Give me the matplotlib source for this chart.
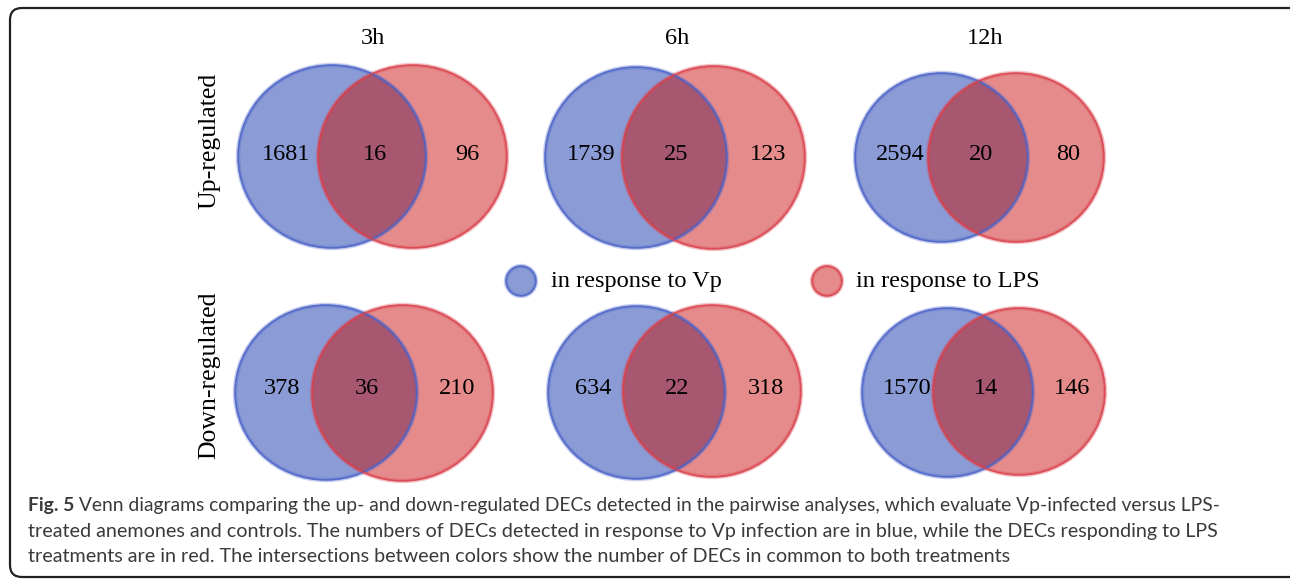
import matplotlib
matplotlib.use("Agg")
import matplotlib.pyplot as plt
from matplotlib.patches import Ellipse, FancyBboxPatch, Circle

# ---- data ----
timepoints = ["3h", "6h", "12h"]
row_labels = ["Up-regulated", "Down-regulated"]
up_vp_only = [1681, 1739, 2594]
up_shared = [16, 25, 20]
up_lps_only = [96, 123, 80]
down_vp_only = [378, 634, 1570]
down_shared = [36, 22, 14]
down_lps_only = [210, 318, 146]
legend_labels = ["in response to Vp", "in response to LPS"]
caption_bold = "Fig. 5"
caption_lines = [
    " Venn diagrams comparing the up- and down-regulated DECs detected in the pairwise analyses, which evaluate Vp-infected versus LPS-",
    "treated anemones and controls. The numbers of DECs detected in response to Vp infection are in blue, while the DECs responding to LPS",
    "treatments are in red. The intersections between colors show the number of DECs in common to both treatments",
]

# ---- layout (pixel geometry) ----
W, H = 1290, 580
# (blue cx, cy, hw, hh), (red cx, cy, hw, hh)
geom_up = [
    ((332, 156.5, 94, 91.5), (412.5, 156.5, 94.5, 91.5)),
    ((636, 157.5, 91, 90.5), (713.5, 157.5, 91.5, 91.5)),
    ((941.5, 157.5, 86.5, 84.5), (1016, 157.5, 88, 84.5)),
]
geom_down = [
    ((326, 392.5, 91, 87.5), (402.5, 393, 90.5, 88)),
    ((636.5, 392.5, 88.5, 86.5), (712, 391, 89, 86)),
    ((947.5, 392.5, 85.5, 84.5), (1019, 391.5, 86, 83.5)),
]
text_x_up = [(286, 375, 467), (591, 676, 768), (900, 981, 1068)]
text_x_down = [(282, 367, 457), (593, 677, 766), (907, 986, 1072)]
title_x = [373, 677, 985]

BLUE_FILL = "#8a9bd6"
RED_FILL = "#e68b8b"
MIX_FILL = "#a85770"
BLUE_EDGE = "#4a62c8"
RED_EDGE = "#d9404c"

fig = plt.figure(figsize=(W / 100, H / 100), dpi=100)
ax = fig.add_axes([0, 0, 1, 1])
ax.set_xlim(0, W)
ax.set_ylim(H, 0)
ax.axis("off")

# frame
frame = FancyBboxPatch((10, 8), W + 20, 569, boxstyle="round,pad=0,rounding_size=12",
                       fill=False, edgecolor="#222222", linewidth=1.6)
ax.add_patch(frame)

serif = ["Liberation Serif", "DejaVu Serif"]
num_fs = 17.5


def venn(bg, rg, labels, xs, cy_text):
    bx, by, bw, bh = bg
    rx, ry, rw, rh = rg
    b = Ellipse((bx, by), 2 * bw, 2 * bh, facecolor=BLUE_FILL, edgecolor="none", zorder=2)
    r = Ellipse((rx, ry), 2 * rw, 2 * rh, facecolor=RED_FILL, edgecolor="none", zorder=3)
    ax.add_patch(b)
    ax.add_patch(r)
    m = Ellipse((rx, ry), 2 * rw, 2 * rh, facecolor=MIX_FILL, edgecolor="none", zorder=4)
    ax.add_patch(m)
    m.set_clip_path(b)
    # edges (halo + core)
    for (cx, cy, hw, hh), col in ((bg, BLUE_EDGE), (rg, RED_EDGE)):
        ax.add_patch(Ellipse((cx, cy), 2 * hw, 2 * hh, fill=False, edgecolor=col,
                             linewidth=3.2, alpha=0.3, zorder=5))
        ax.add_patch(Ellipse((cx, cy), 2 * hw, 2 * hh, fill=False, edgecolor=col,
                             linewidth=1.2, alpha=0.85, zorder=6))
    for x, lab in zip(xs, labels):
        ax.text(x, cy_text, str(lab), ha="center", va="center", fontsize=num_fs,
                family=serif, color="black", zorder=10)


for i in range(3):
    venn(geom_up[i][0], geom_up[i][1], (up_vp_only[i], up_shared[i], up_lps_only[i]),
         text_x_up[i], 155)
    venn(geom_down[i][0], geom_down[i][1], (down_vp_only[i], down_shared[i], down_lps_only[i]),
         text_x_down[i], 389)
    ax.text(title_x[i], 38, timepoints[i], ha="center", va="center", fontsize=num_fs,
            family=serif, color="black")

ax.text(209, 141, row_labels[0], rotation=90, ha="center", va="center", fontsize=18.5,
        family=serif, color="black")
ax.text(209, 375, row_labels[1], rotation=90, ha="center", va="center", fontsize=18.5,
        family=serif, color="black")

# legend
for (cx, fc, ec), lab, tx in zip(((521, BLUE_FILL, BLUE_EDGE), (827, RED_FILL, RED_EDGE)),
                                 legend_labels, (551, 856)):
    ax.add_patch(Circle((cx, 281), 15, facecolor=fc, edgecolor="none", zorder=2))
    ax.add_patch(Circle((cx, 281), 15, fill=False, edgecolor=ec, linewidth=3.2, alpha=0.3, zorder=3))
    ax.add_patch(Circle((cx, 281), 15, fill=False, edgecolor=ec, linewidth=1.2, alpha=0.85, zorder=4))
    ax.text(tx, 282, lab, ha="left", va="center", fontsize=17.6, family=serif, color="black")

# caption
cap_font = ["Lato", "DejaVu Sans"]
cap_color = "#3a3a3a"
cap_fs = 14.2
cap_y = [505, 531, 557]
renderer = fig.canvas.get_renderer()
inv = ax.transData.inverted()


def right_px(t):
    bb = t.get_window_extent(renderer=renderer)
    return inv.transform((bb.x1, bb.y0))[0]


# first line: fit so that it ends where the reference's justified line ends
line1_end = 1222
fs1 = cap_fs
for _ in range(3):
    tb = ax.text(28, cap_y[0], caption_bold, ha="left", va="center", fontsize=fs1,
                 family=cap_font, fontweight="bold", color=cap_color)
    t1 = ax.text(right_px(tb), cap_y[0], caption_lines[0], ha="left", va="center",
                 fontsize=fs1, family=cap_font, color=cap_color)
    end = right_px(t1)
    tb.remove()
    t1.remove()
    fs1 = fs1 * (line1_end - 28) / (end - 28)
tb = ax.text(28, cap_y[0], caption_bold, ha="left", va="center", fontsize=fs1,
             family=cap_font, fontweight="bold", color=cap_color)
ax.text(right_px(tb), cap_y[0], caption_lines[0], ha="left", va="center",
        fontsize=fs1, family=cap_font, color=cap_color)
for y, line in zip(cap_y[1:], caption_lines[1:]):
    ax.text(28, y, line, ha="left", va="center", fontsize=cap_fs, family=cap_font, color=cap_color)

fig.savefig("out.png", dpi=100, facecolor="white")
